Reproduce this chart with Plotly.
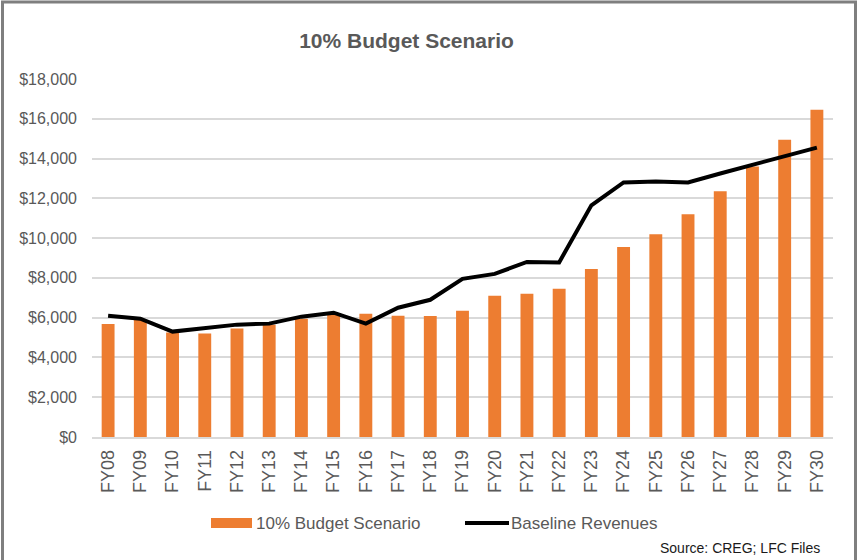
import plotly.graph_objects as go

categories = ["FY08", "FY09", "FY10", "FY11", "FY12", "FY13", "FY14", "FY15", "FY16", "FY17",
              "FY18", "FY19", "FY20", "FY21", "FY22", "FY23", "FY24", "FY25", "FY26", "FY27",
              "FY28", "FY29", "FY30"]
budget_10pct = [5680, 5900, 5250, 5200, 5450, 5650, 5950, 6150, 6200, 6100,
                6080, 6350, 7100, 7200, 7450, 8450, 9550, 10200, 11200, 12350,
                13600, 14950, 16450]
baseline_rev = [6100, 5950, 5300, 5500, 5650, 5700, 6050, 6250, 5700, 6500,
                6900, 7950, 8200, 8800, 8780, 11650, 12800, 12850, 12800, 13250,
                13680, 14100, 14550]
y_ticks = [0, 2000, 4000, 6000, 8000, 10000, 12000, 14000, 16000, 18000]
y_tick_labels = ["$0", "$2,000", "$4,000", "$6,000", "$8,000", "$10,000",
                 "$12,000", "$14,000", "$16,000", "$18,000"]

ORANGE = "#ED7D31"
GRAY_TXT = "#595959"
FONT = "Liberation Sans, Arial, sans-serif"

W, H = 858, 560
L, R, T, B = 92, 25, 79, 123
PW, PH = W - L - R, H - T - B

def px(x):
    return (x - L) / PW

def py(y):
    return (H - B - y) / PH

fig = go.Figure()
fig.add_trace(go.Bar(x=categories, y=budget_10pct, name="10% Budget Scenario",
                     marker=dict(color=ORANGE, line=dict(width=0)), showlegend=False))
fig.add_trace(go.Scatter(x=categories, y=baseline_rev, name="Baseline Revenues", mode="lines",
                         line=dict(color="black", width=4), showlegend=False))

shapes = [
    # frame
    dict(type="path", xref="paper", yref="paper",
         path=f"M {px(2.5)} {py(560)} L {px(2.5)} {py(2)} L {px(855.5)} {py(2)} L {px(855.5)} {py(560)}",
         line=dict(color="#7f7f7f", width=3)),
    # legend swatches
    dict(type="rect", xref="paper", yref="paper", x0=px(211), x1=px(252), y0=py(528), y1=py(518),
         fillcolor=ORANGE, line=dict(width=0)),
    dict(type="line", xref="paper", yref="paper", x0=px(465), x1=px(509), y0=py(523), y1=py(523),
         line=dict(color="black", width=4)),
]

annotations = [
    dict(text="10% Budget Scenario", xref="paper", yref="paper", x=px(254), y=py(523),
         xanchor="left", yanchor="middle", showarrow=False, font=dict(size=17, color=GRAY_TXT, family=FONT)),
    dict(text="Baseline Revenues", xref="paper", yref="paper", x=px(509), y=py(523),
         xanchor="left", yanchor="middle", showarrow=False, font=dict(size=17, color=GRAY_TXT, family=FONT)),
    dict(text="Source: CREG; LFC Files", xref="paper", yref="paper", x=px(822), y=py(548),
         xanchor="right", yanchor="middle", showarrow=False, font=dict(size=14, color="#1a1a1a", family=FONT)),
]

fig.update_layout(
    width=W, height=H,
    margin=dict(l=L, r=R, t=T, b=B),
    paper_bgcolor="white", plot_bgcolor="white",
    title=dict(text="<b>10% Budget Scenario</b>", x=406.5 / W, y=1 - 41 / H, xanchor="center", yanchor="middle",
               font=dict(size=21, color=GRAY_TXT, family=FONT)),
    bargap=0.6,
    shapes=shapes,
    annotations=annotations,
    font=dict(family=FONT, color=GRAY_TXT),
)
fig.update_yaxes(range=[0, 18000], tickvals=y_ticks, ticktext=y_tick_labels,
                 showgrid=True, gridcolor="#D9D9D9", gridwidth=1.5, zeroline=False,
                 tickfont=dict(size=16, color=GRAY_TXT), ticklabelstandoff=14, fixedrange=True)
fig.update_xaxes(type="category", tickangle=-90, tickfont=dict(size=18, color=GRAY_TXT),
                 showline=True, linecolor="#D9D9D9", linewidth=1.5, showgrid=False,
                 ticklabelstandoff=4, fixedrange=True)

fig.write_html("out.html", config={"displayModeBar": False},
               post_script="document.body.style.margin='0';document.body.style.overflow='hidden';")
